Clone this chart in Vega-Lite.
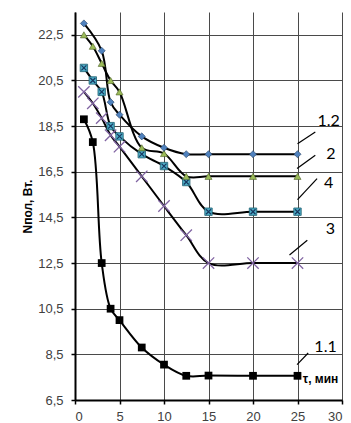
{
  "$schema": "https://vega.github.io/schema/vega-lite/v6.json",
  "width": 267,
  "height": 388,
  "autosize": "none",
  "padding": {"left": 75, "top": 12, "right": 9, "bottom": 23},
  "background": "white",
  "config": {
    "view": {"stroke": null},
    "axis": {
      "labelFont": "Liberation Sans",
      "labelFontSize": 13,
      "labelColor": "#404040",
      "gridColor": "#4a4a4a",
      "gridWidth": 1,
      "gridOpacity": 1,
      "domainColor": "#000000",
      "domainWidth": 2,
      "tickColor": "#000000",
      "tickSize": 4,
      "tickWidth": 1.5
    }
  },
  "datasets": {
    "pts": [
      {"s": "1.2", "x": 1, "y": 23.0},
      {"s": "1.2", "x": 3, "y": 21.8},
      {"s": "1.2", "x": 4, "y": 19.55},
      {"s": "1.2", "x": 5, "y": 19.0},
      {"s": "1.2", "x": 7.5, "y": 18.05},
      {"s": "1.2", "x": 10, "y": 17.55},
      {"s": "1.2", "x": 12.5, "y": 17.27},
      {"s": "1.2", "x": 15, "y": 17.27},
      {"s": "1.2", "x": 20, "y": 17.27},
      {"s": "1.2", "x": 25, "y": 17.27},
      {"s": "2", "x": 1, "y": 22.5},
      {"s": "2", "x": 2, "y": 22.0},
      {"s": "2", "x": 3, "y": 21.25},
      {"s": "2", "x": 4, "y": 20.5},
      {"s": "2", "x": 5, "y": 20.0},
      {"s": "2", "x": 7.5, "y": 17.55},
      {"s": "2", "x": 10, "y": 17.3},
      {"s": "2", "x": 12.5, "y": 16.3},
      {"s": "2", "x": 15, "y": 16.3},
      {"s": "2", "x": 20, "y": 16.3},
      {"s": "2", "x": 25, "y": 16.3},
      {"s": "4", "x": 1, "y": 21.05},
      {"s": "4", "x": 2, "y": 20.5},
      {"s": "4", "x": 3, "y": 20.0},
      {"s": "4", "x": 4, "y": 18.5},
      {"s": "4", "x": 5, "y": 18.05},
      {"s": "4", "x": 7.5, "y": 17.27},
      {"s": "4", "x": 10, "y": 16.75},
      {"s": "4", "x": 12.5, "y": 16.05},
      {"s": "4", "x": 15, "y": 14.75},
      {"s": "4", "x": 20, "y": 14.75},
      {"s": "4", "x": 25, "y": 14.75},
      {"s": "3", "x": 1, "y": 20.0},
      {"s": "3", "x": 2, "y": 19.5},
      {"s": "3", "x": 3, "y": 18.85},
      {"s": "3", "x": 4, "y": 18.1},
      {"s": "3", "x": 5, "y": 17.6},
      {"s": "3", "x": 7.5, "y": 16.3},
      {"s": "3", "x": 10, "y": 15.0},
      {"s": "3", "x": 12.5, "y": 13.72},
      {"s": "3", "x": 15, "y": 12.5},
      {"s": "3", "x": 20, "y": 12.5},
      {"s": "3", "x": 25, "y": 12.5},
      {"s": "1.1", "x": 1, "y": 18.8},
      {"s": "1.1", "x": 2, "y": 17.8},
      {"s": "1.1", "x": 3, "y": 12.5},
      {"s": "1.1", "x": 4, "y": 10.5},
      {"s": "1.1", "x": 5, "y": 10.0},
      {"s": "1.1", "x": 7.5, "y": 8.8},
      {"s": "1.1", "x": 10, "y": 8.05},
      {"s": "1.1", "x": 12.5, "y": 7.56},
      {"s": "1.1", "x": 15, "y": 7.57},
      {"s": "1.1", "x": 20, "y": 7.56},
      {"s": "1.1", "x": 25, "y": 7.56}
    ],
    "labels": [
      {"t": "1.2", "x": 28.5, "y": 18.74},
      {"t": "2", "x": 28.76, "y": 17.26},
      {"t": "4", "x": 28.5, "y": 16.02},
      {"t": "3", "x": 28.7, "y": 13.98},
      {"t": "1.1", "x": 28.15, "y": 8.81}
    ],
    "leaders": [
      {"x": 25.0, "y": 17.73, "x2": 27.0, "y2": 18.24},
      {"x": 24.95, "y": 16.64, "x2": 27.0, "y2": 17.22},
      {"x": 25.0, "y": 15.28, "x2": 27.2, "y2": 16.2},
      {"x": 24.1, "y": 12.85, "x2": 26.1, "y2": 13.5},
      {"x": 24.95, "y": 8.05, "x2": 26.2, "y2": 8.56}
    ],
    "xtitle": [{"t": "τ, мин", "x": 25.6, "y": 7.43}]
  },
  "layer": [
    {
      "data": {"name": "pts"},
      "mark": {"type": "line", "color": "#000000", "strokeWidth": 2, "interpolate": "catmull-rom"},
      "encoding": {
        "x": {
          "field": "x", "type": "quantitative",
          "scale": {"domain": [0, 30], "nice": false, "zero": false},
          "axis": {"values": [0, 5, 10, 15, 20, 25, 30], "title": null, "labelPadding": 6}
        },
        "y": {
          "field": "y", "type": "quantitative",
          "scale": {"domain": [6.5, 23.5], "nice": false, "zero": false},
          "axis": {
            "values": [6.5, 8.5, 10.5, 12.5, 14.5, 16.5, 18.5, 20.5, 22.5],
            "labelExpr": "replace(format(datum.value, '.1f'), '.', ',')",
            "title": "Nпол, Вт.",
            "titleFont": "Liberation Sans",
            "titleFontSize": 12,
            "titleFontWeight": "bold",
            "titleColor": "#000000",
            "titlePadding": 3,
            "labelPadding": 8
          }
        },
        "detail": {"field": "s"}
      }
    },
    {
      "data": {"name": "pts"},
      "transform": [{"filter": "datum.s == '1.1'"}],
      "mark": {"type": "point", "shape": "square", "filled": true, "color": "#000000", "size": 60, "opacity": 1},
      "encoding": {"x": {"field": "x", "type": "quantitative"}, "y": {"field": "y", "type": "quantitative"}}
    },
    {
      "data": {"name": "pts"},
      "transform": [{"filter": "datum.s == '3'"}],
      "mark": {"type": "point", "shape": "M-1,-1L1,1M-1,1L1,-1", "filled": false, "stroke": "#8064A2", "strokeWidth": 1.3, "size": 130, "opacity": 1},
      "encoding": {"x": {"field": "x", "type": "quantitative"}, "y": {"field": "y", "type": "quantitative"}}
    },
    {
      "data": {"name": "pts"},
      "transform": [{"filter": "datum.s == '4'"}],
      "mark": {"type": "point", "shape": "square", "filled": true, "color": "#4BACC6", "stroke": "#1F5F70", "strokeWidth": 0.8, "size": 55, "opacity": 1},
      "encoding": {"x": {"field": "x", "type": "quantitative"}, "y": {"field": "y", "type": "quantitative"}}
    },
    {
      "data": {"name": "pts"},
      "transform": [{"filter": "datum.s == '4'"}],
      "mark": {"type": "point", "shape": "M-1,-1L1,1M-1,1L1,-1", "filled": false, "stroke": "#17375E", "strokeWidth": 1.2, "size": 25, "opacity": 1},
      "encoding": {"x": {"field": "x", "type": "quantitative"}, "y": {"field": "y", "type": "quantitative"}}
    },
    {
      "data": {"name": "pts"},
      "transform": [{"filter": "datum.s == '2'"}],
      "mark": {"type": "point", "shape": "triangle-up", "filled": true, "color": "#9BBB59", "stroke": "#4F6228", "strokeWidth": 0.6, "size": 50, "opacity": 1},
      "encoding": {"x": {"field": "x", "type": "quantitative"}, "y": {"field": "y", "type": "quantitative"}}
    },
    {
      "data": {"name": "pts"},
      "transform": [{"filter": "datum.s == '1.2'"}],
      "mark": {"type": "point", "shape": "diamond", "filled": true, "color": "#4F81BD", "stroke": "#254061", "strokeWidth": 0.6, "size": 50, "opacity": 1},
      "encoding": {"x": {"field": "x", "type": "quantitative"}, "y": {"field": "y", "type": "quantitative"}}
    },
    {
      "data": {"name": "leaders"},
      "mark": {"type": "rule", "color": "#000000", "strokeWidth": 1.2},
      "encoding": {
        "x": {"field": "x", "type": "quantitative"},
        "y": {"field": "y", "type": "quantitative"},
        "x2": {"field": "x2"},
        "y2": {"field": "y2"}
      }
    },
    {
      "data": {"name": "labels"},
      "mark": {"type": "text", "font": "Lato", "fontSize": 16, "color": "#000000", "align": "center", "baseline": "middle"},
      "encoding": {
        "x": {"field": "x", "type": "quantitative"},
        "y": {"field": "y", "type": "quantitative"},
        "text": {"field": "t"}
      }
    },
    {
      "data": {"name": "xtitle"},
      "mark": {"type": "text", "font": "Liberation Sans", "fontSize": 12, "fontWeight": "bold", "color": "#000000", "align": "left", "baseline": "middle"},
      "encoding": {
        "x": {"field": "x", "type": "quantitative"},
        "y": {"field": "y", "type": "quantitative"},
        "text": {"field": "t"}
      }
    }
  ]
}
